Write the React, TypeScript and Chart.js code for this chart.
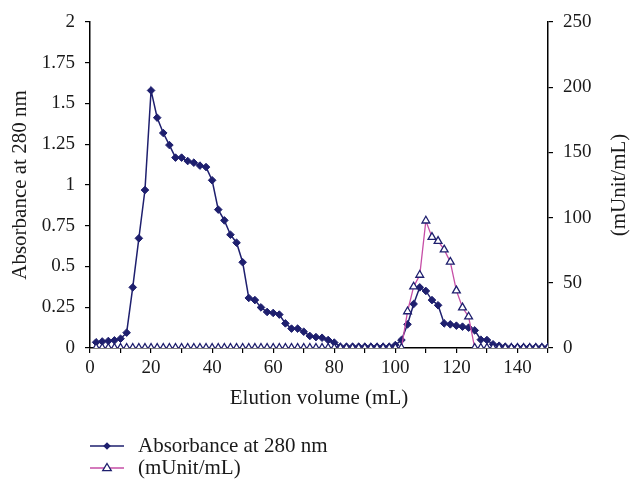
import React, { useEffect, useRef } from "react";
import { Chart, registerables } from "chart.js";

Chart.register(...registerables);

const elutionVolume = [
  2, 4, 6, 8, 10, 12, 14, 16, 18, 20,
  22, 24, 26, 28, 30, 32, 34, 36, 38, 40,
  42, 44, 46, 48, 50, 52, 54, 56, 58, 60,
  62, 64, 66, 68, 70, 72, 74, 76, 78, 80,
  82, 84, 86, 88, 90, 92, 94, 96, 98, 100,
  102, 104, 106, 108, 110, 112, 114, 116, 118, 120,
  122, 124, 126, 128, 130, 132, 134, 136, 138, 140,
  142, 144, 146, 148, 150,
];

const absorbance280 = [
  0.035, 0.04, 0.043, 0.047, 0.057, 0.094, 0.372, 0.673, 0.969, 1.58,
  1.413, 1.319, 1.245, 1.168, 1.168, 1.147, 1.137, 1.119, 1.11, 1.029,
  0.849, 0.783, 0.695, 0.646, 0.526, 0.307, 0.294, 0.249, 0.221, 0.215,
  0.205, 0.151, 0.119, 0.119, 0.1, 0.074, 0.067, 0.063, 0.049, 0.033,
  0.008, 0.008, 0.008, 0.008, 0.008, 0.008, 0.008, 0.008, 0.008, 0.018,
  0.049, 0.145, 0.27, 0.372, 0.35, 0.294, 0.262, 0.151, 0.145, 0.137,
  0.131, 0.125, 0.108, 0.051, 0.049, 0.023, 0.014, 0.008, 0.005, 0.005,
  0.005, 0.005, 0.005, 0.005, 0.005,
];

const activity = [
  0, 0, 0, 0, 0, 0, 0, 0, 0, 0,
  0, 0, 0, 0, 0, 0, 0, 0, 0, 0,
  0, 0, 0, 0, 0, 0, 0, 0, 0, 0,
  0, 0, 0, 0, 0, 0, 0, 0, 0, 0,
  0, 0, 0, 0, 0, 0, 0, 0, 0, 0,
  0, 28, 47, 56, 97.6, 85, 82, 75.4, 66, 44,
  31, 24, 0, 0, 0, 0, 0, 0, 0, 0,
  0, 0, 0, 0, 0,
];

const seriesNames = ["Absorbance at 280 nm", "(mUnit/mL)"];
const xTitle = "Elution volume (mL)";
const yLeftTitle = "Absorbance at 280 nm";
const yRightTitle = "(mUnit/mL)";

const FONT = '"Liberation Serif", "Times New Roman", serif';
const NAVY = "#1e1f6e";
const PINK = "#c64ea6";
const TEXT = "#1a1a1a";

const overlayPlugin = {
  id: "overlay",
  afterDraw(chart: any) {
    const ctx = chart.ctx as CanvasRenderingContext2D;
    const area = chart.chartArea;
    ctx.save();
    ctx.fillStyle = TEXT;
    ctx.font = `21px ${FONT}`;
    ctx.textAlign = "center";
    ctx.textBaseline = "middle";
    ctx.translate(619, (area.top + area.bottom) / 2);
    ctx.rotate(-Math.PI / 2);
    ctx.fillText(yRightTitle, 0, 0);
    ctx.restore();

    const rows = [446, 468];
    ctx.save();
    ctx.font = `21px ${FONT}`;
    ctx.textAlign = "left";
    ctx.textBaseline = "middle";
    rows.forEach((y, i) => {
      const x0 = 90;
      const x1 = 124;
      const xm = (x0 + x1) / 2;
      ctx.beginPath();
      ctx.moveTo(x0, y);
      ctx.lineTo(x1, y);
      ctx.lineWidth = i === 0 ? 1.5 : 1.3;
      ctx.strokeStyle = i === 0 ? NAVY : PINK;
      ctx.stroke();
      if (i === 0) {
        const r = 3.8;
        ctx.beginPath();
        ctx.moveTo(xm, y - r);
        ctx.lineTo(xm + r, y);
        ctx.lineTo(xm, y + r);
        ctx.lineTo(xm - r, y);
        ctx.closePath();
        ctx.fillStyle = NAVY;
        ctx.fill();
      } else {
        const r = 4.5;
        ctx.beginPath();
        ctx.moveTo(xm, y - r);
        ctx.lineTo(xm + r * 0.95, y + r * 0.6);
        ctx.lineTo(xm - r * 0.95, y + r * 0.6);
        ctx.closePath();
        ctx.fillStyle = "#ffffff";
        ctx.fill();
        ctx.lineWidth = 1.3;
        ctx.strokeStyle = NAVY;
        ctx.stroke();
      }
      ctx.fillStyle = TEXT;
      ctx.fillText(seriesNames[i], 138, y);
    });
    ctx.restore();
  },
};

export default function App() {
  const ref = useRef<HTMLCanvasElement | null>(null);

  useEffect(() => {
    if (!ref.current) return;
    const chart = new Chart(ref.current, {
      type: "line",
      data: {
        datasets: [
          {
            label: seriesNames[0],
            data: elutionVolume.map((x, i) => ({ x, y: absorbance280[i] })),
            yAxisID: "y",
            borderColor: NAVY,
            backgroundColor: NAVY,
            borderWidth: 1.5,
            pointStyle: "rectRot",
            pointRadius: 3.8,
            pointBorderWidth: 1,
            pointBackgroundColor: NAVY,
            pointBorderColor: NAVY,
            tension: 0,
            order: 1,
          },
          {
            label: seriesNames[1],
            data: elutionVolume.map((x, i) => ({ x, y: activity[i] })),
            yAxisID: "y1",
            borderColor: PINK,
            backgroundColor: "#ffffff",
            borderWidth: 1.3,
            pointStyle: "triangle",
            pointRadius: 4.5,
            pointBorderWidth: 1.3,
            pointBackgroundColor: "#ffffff",
            pointBorderColor: NAVY,
            tension: 0,
            order: 0,
          },
        ],
      },
      options: {
        animation: false,
        responsive: false,
        maintainAspectRatio: false,
        layout: { padding: { left: 0, right: 0, top: 22, bottom: 70 } },
        plugins: {
          legend: { display: false },
          tooltip: { enabled: false },
          title: { display: false },
        },
        scales: {
          x: {
            type: "linear",
            min: 0,
            max: 150,
            border: { display: true, color: "#000", width: 1.5 },
            grid: {
              drawOnChartArea: false,
              drawTicks: true,
              tickLength: 5,
              color: "#000",
              lineWidth: 1.2,
            },
            ticks: {
              stepSize: 10,
              autoSkip: false,
              maxRotation: 0,
              padding: 4,
              color: TEXT,
              font: { family: FONT, size: 19 },
              callback: (v: any) => (Number(v) % 20 === 0 ? String(v) : ""),
            },
            title: {
              display: true,
              text: xTitle,
              color: TEXT,
              font: { family: FONT, size: 21 },
              padding: { top: 0, bottom: 0 },
            },
            afterFit: (s: any) => {
              s.height = 63;
            },
          },
          y: {
            type: "linear",
            position: "left",
            min: 0,
            max: 2,
            border: { display: true, color: "#000", width: 1.5 },
            grid: {
              drawOnChartArea: false,
              drawTicks: true,
              tickLength: 5,
              color: "#000",
              lineWidth: 1.2,
            },
            ticks: {
              stepSize: 0.25,
              padding: 10,
              color: TEXT,
              font: { family: FONT, size: 19 },
              callback: (v: any) => String(Math.round(Number(v) * 100) / 100),
            },
            title: {
              display: true,
              text: yLeftTitle,
              color: TEXT,
              font: { family: FONT, size: 21 },
              padding: { top: 8, bottom: 0 },
            },
            afterFit: (s: any) => {
              s.width = 90;
            },
          },
          y1: {
            type: "linear",
            position: "right",
            min: 0,
            max: 250,
            border: { display: true, color: "#000", width: 1.5 },
            grid: {
              drawOnChartArea: false,
              drawTicks: true,
              tickLength: 5,
              color: "#000",
              lineWidth: 1.2,
            },
            ticks: {
              stepSize: 50,
              padding: 10,
              color: TEXT,
              font: { family: FONT, size: 19 },
            },
            afterFit: (s: any) => {
              s.width = 82;
            },
          },
        },
      },
      plugins: [overlayPlugin],
    });
    return () => chart.destroy();
  }, []);

  return (
    <div style={{ position: "fixed", left: 0, top: 0, width: 630, height: 481, background: "#fff" }}>
      <canvas ref={ref} width={630} height={481} style={{ width: 630, height: 481 }} />
    </div>
  );
}
